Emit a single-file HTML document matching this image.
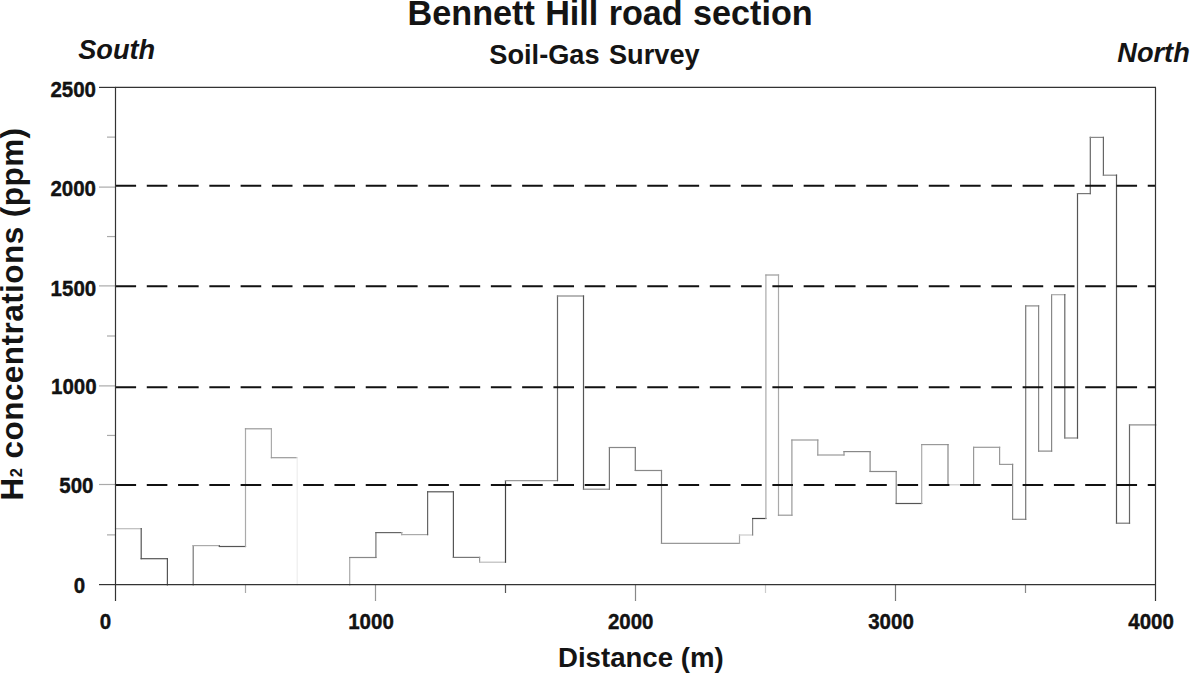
<!DOCTYPE html>
<html><head><meta charset="utf-8"><style>
html,body{margin:0;padding:0;background:#fff;width:1190px;height:673px;overflow:hidden}
svg{position:absolute;left:0;top:0}
text{fill:#141414}
</style></head><body>
<svg width="1190" height="673" viewBox="0 0 1190 673">
<rect width="1190" height="673" fill="#fff"/>
<line x1="115.5" y1="528.7" x2="141.2" y2="528.7" stroke="#bbb" stroke-width="1.2" stroke-linecap="square"/>
<line x1="141.2" y1="528.7" x2="141.2" y2="558.7" stroke="#555" stroke-width="1.2" stroke-linecap="square"/>
<line x1="141.2" y1="558.7" x2="167.4" y2="558.7" stroke="#555" stroke-width="1.2" stroke-linecap="square"/>
<line x1="167.4" y1="558.7" x2="167.4" y2="585" stroke="#555" stroke-width="1.2" stroke-linecap="square"/>
<line x1="193.2" y1="585" x2="193.2" y2="545.6" stroke="#777" stroke-width="1.2" stroke-linecap="square"/>
<line x1="193.2" y1="545.6" x2="219.4" y2="545.6" stroke="#aaa" stroke-width="1.2" stroke-linecap="square"/>
<line x1="219.4" y1="545.6" x2="219.4" y2="546.5" stroke="#777" stroke-width="1.2" stroke-linecap="square"/>
<line x1="219.4" y1="546.5" x2="245.5" y2="546.5" stroke="#555" stroke-width="1.2" stroke-linecap="square"/>
<line x1="245.5" y1="546.5" x2="245.5" y2="428.8" stroke="#aaa" stroke-width="1.2" stroke-linecap="square"/>
<line x1="245.5" y1="428.8" x2="271.4" y2="428.8" stroke="#999" stroke-width="1.2" stroke-linecap="square"/>
<line x1="271.4" y1="428.8" x2="271.4" y2="457.7" stroke="#aaa" stroke-width="1.2" stroke-linecap="square"/>
<line x1="271.4" y1="457.7" x2="297.2" y2="457.7" stroke="#999" stroke-width="1.2" stroke-linecap="square"/>
<line x1="297.2" y1="457.7" x2="297.2" y2="585" stroke="#eee" stroke-width="1.2" stroke-linecap="square"/>
<line x1="349.7" y1="585" x2="349.7" y2="557.5" stroke="#aaa" stroke-width="1.2" stroke-linecap="square"/>
<line x1="349.7" y1="557.5" x2="375.9" y2="557.5" stroke="#888" stroke-width="1.2" stroke-linecap="square"/>
<line x1="375.9" y1="557.5" x2="375.9" y2="532.6" stroke="#777" stroke-width="1.2" stroke-linecap="square"/>
<line x1="375.9" y1="532.6" x2="401.7" y2="532.6" stroke="#666" stroke-width="1.2" stroke-linecap="square"/>
<line x1="401.7" y1="532.6" x2="401.7" y2="534.6" stroke="#aaa" stroke-width="1.2" stroke-linecap="square"/>
<line x1="401.7" y1="534.6" x2="427.6" y2="534.6" stroke="#aaa" stroke-width="1.2" stroke-linecap="square"/>
<line x1="427.6" y1="534.6" x2="427.6" y2="491.8" stroke="#666" stroke-width="1.2" stroke-linecap="square"/>
<line x1="427.6" y1="491.8" x2="453.4" y2="491.8" stroke="#555" stroke-width="1.2" stroke-linecap="square"/>
<line x1="453.4" y1="491.8" x2="453.4" y2="557.4" stroke="#555" stroke-width="1.2" stroke-linecap="square"/>
<line x1="453.4" y1="557.4" x2="479.6" y2="557.4" stroke="#777" stroke-width="1.2" stroke-linecap="square"/>
<line x1="479.6" y1="557.4" x2="479.6" y2="562.2" stroke="#999" stroke-width="1.2" stroke-linecap="square"/>
<line x1="479.6" y1="562.2" x2="505.5" y2="562.2" stroke="#bbb" stroke-width="1.2" stroke-linecap="square"/>
<line x1="505.5" y1="562.2" x2="505.5" y2="480.6" stroke="#444" stroke-width="1.2" stroke-linecap="square"/>
<line x1="505.5" y1="480.6" x2="557.5" y2="480.6" stroke="#999" stroke-width="1.2" stroke-linecap="square"/>
<line x1="557.5" y1="480.6" x2="557.5" y2="296.0" stroke="#666" stroke-width="1.2" stroke-linecap="square"/>
<line x1="557.5" y1="296.0" x2="583.5" y2="296.0" stroke="#888" stroke-width="1.2" stroke-linecap="square"/>
<line x1="583.5" y1="296.0" x2="583.5" y2="489.2" stroke="#555" stroke-width="1.2" stroke-linecap="square"/>
<line x1="583.5" y1="489.2" x2="609.4" y2="489.2" stroke="#888" stroke-width="1.2" stroke-linecap="square"/>
<line x1="609.4" y1="489.2" x2="609.4" y2="447.5" stroke="#777" stroke-width="1.2" stroke-linecap="square"/>
<line x1="609.4" y1="447.5" x2="635.3" y2="447.5" stroke="#888" stroke-width="1.2" stroke-linecap="square"/>
<line x1="635.3" y1="447.5" x2="635.3" y2="470.5" stroke="#777" stroke-width="1.2" stroke-linecap="square"/>
<line x1="635.3" y1="470.5" x2="661.5" y2="470.5" stroke="#888" stroke-width="1.2" stroke-linecap="square"/>
<line x1="661.5" y1="470.5" x2="661.5" y2="543.4" stroke="#888" stroke-width="1.2" stroke-linecap="square"/>
<line x1="661.5" y1="543.4" x2="739.5" y2="543.4" stroke="#999" stroke-width="1.2" stroke-linecap="square"/>
<line x1="739.5" y1="543.4" x2="739.5" y2="535.0" stroke="#aaa" stroke-width="1.2" stroke-linecap="square"/>
<line x1="739.5" y1="535.0" x2="752.6" y2="535.0" stroke="#ccc" stroke-width="1.2" stroke-linecap="square"/>
<line x1="752.6" y1="535.0" x2="752.6" y2="518.5" stroke="#888" stroke-width="1.2" stroke-linecap="square"/>
<line x1="752.6" y1="518.5" x2="765.9" y2="518.5" stroke="#444" stroke-width="1.2" stroke-linecap="square"/>
<line x1="765.9" y1="518.5" x2="765.9" y2="275.0" stroke="#aaa" stroke-width="1.2" stroke-linecap="square"/>
<line x1="765.9" y1="275.0" x2="778.5" y2="275.0" stroke="#999" stroke-width="1.2" stroke-linecap="square"/>
<line x1="778.5" y1="275.0" x2="778.5" y2="515.2" stroke="#aaa" stroke-width="1.2" stroke-linecap="square"/>
<line x1="778.5" y1="515.2" x2="791.9" y2="515.2" stroke="#999" stroke-width="1.2" stroke-linecap="square"/>
<line x1="791.9" y1="515.2" x2="791.9" y2="440.0" stroke="#999" stroke-width="1.2" stroke-linecap="square"/>
<line x1="791.9" y1="440.0" x2="817.8" y2="440.0" stroke="#999" stroke-width="1.2" stroke-linecap="square"/>
<line x1="817.8" y1="440.0" x2="817.8" y2="455.0" stroke="#999" stroke-width="1.2" stroke-linecap="square"/>
<line x1="817.8" y1="455.0" x2="844.0" y2="455.0" stroke="#999" stroke-width="1.2" stroke-linecap="square"/>
<line x1="844.0" y1="455.0" x2="844.0" y2="451.6" stroke="#999" stroke-width="1.2" stroke-linecap="square"/>
<line x1="844.0" y1="451.6" x2="870.1" y2="451.6" stroke="#888" stroke-width="1.2" stroke-linecap="square"/>
<line x1="870.1" y1="451.6" x2="870.1" y2="471.5" stroke="#888" stroke-width="1.2" stroke-linecap="square"/>
<line x1="870.1" y1="471.5" x2="896.2" y2="471.5" stroke="#888" stroke-width="1.2" stroke-linecap="square"/>
<line x1="896.2" y1="471.5" x2="896.2" y2="503.5" stroke="#888" stroke-width="1.2" stroke-linecap="square"/>
<line x1="896.2" y1="503.5" x2="921.7" y2="503.5" stroke="#555" stroke-width="1.2" stroke-linecap="square"/>
<line x1="921.7" y1="503.5" x2="921.7" y2="444.6" stroke="#aaa" stroke-width="1.2" stroke-linecap="square"/>
<line x1="921.7" y1="444.6" x2="948.0" y2="444.6" stroke="#999" stroke-width="1.2" stroke-linecap="square"/>
<line x1="948.0" y1="444.6" x2="948.0" y2="484.8" stroke="#888" stroke-width="1.2" stroke-linecap="square"/>
<line x1="948.0" y1="484.8" x2="973.6" y2="484.8" stroke="#ccc" stroke-width="1.2" stroke-linecap="square"/>
<line x1="973.6" y1="484.8" x2="973.6" y2="447.3" stroke="#999" stroke-width="1.2" stroke-linecap="square"/>
<line x1="973.6" y1="447.3" x2="999.6" y2="447.3" stroke="#999" stroke-width="1.2" stroke-linecap="square"/>
<line x1="999.6" y1="447.3" x2="999.6" y2="464.4" stroke="#999" stroke-width="1.2" stroke-linecap="square"/>
<line x1="999.6" y1="464.4" x2="1012.6" y2="464.4" stroke="#999" stroke-width="1.2" stroke-linecap="square"/>
<line x1="1012.6" y1="464.4" x2="1012.6" y2="519.3" stroke="#888" stroke-width="1.2" stroke-linecap="square"/>
<line x1="1012.6" y1="519.3" x2="1025.7" y2="519.3" stroke="#888" stroke-width="1.2" stroke-linecap="square"/>
<line x1="1025.7" y1="519.3" x2="1025.7" y2="305.9" stroke="#777" stroke-width="1.2" stroke-linecap="square"/>
<line x1="1025.7" y1="305.9" x2="1038.6" y2="305.9" stroke="#888" stroke-width="1.2" stroke-linecap="square"/>
<line x1="1038.6" y1="305.9" x2="1038.6" y2="451.1" stroke="#888" stroke-width="1.2" stroke-linecap="square"/>
<line x1="1038.6" y1="451.1" x2="1051.6" y2="451.1" stroke="#888" stroke-width="1.2" stroke-linecap="square"/>
<line x1="1051.6" y1="451.1" x2="1051.6" y2="294.7" stroke="#888" stroke-width="1.2" stroke-linecap="square"/>
<line x1="1051.6" y1="294.7" x2="1064.8" y2="294.7" stroke="#aaa" stroke-width="1.2" stroke-linecap="square"/>
<line x1="1064.8" y1="294.7" x2="1064.8" y2="438.0" stroke="#666" stroke-width="1.2" stroke-linecap="square"/>
<line x1="1064.8" y1="438.0" x2="1077.5" y2="438.0" stroke="#888" stroke-width="1.2" stroke-linecap="square"/>
<line x1="1077.5" y1="438.0" x2="1077.5" y2="193.6" stroke="#555" stroke-width="1.2" stroke-linecap="square"/>
<line x1="1077.5" y1="193.6" x2="1090.3" y2="193.6" stroke="#777" stroke-width="1.2" stroke-linecap="square"/>
<line x1="1090.3" y1="193.6" x2="1090.3" y2="137.4" stroke="#666" stroke-width="1.2" stroke-linecap="square"/>
<line x1="1090.3" y1="137.4" x2="1103.4" y2="137.4" stroke="#888" stroke-width="1.2" stroke-linecap="square"/>
<line x1="1103.4" y1="137.4" x2="1103.4" y2="175.2" stroke="#666" stroke-width="1.2" stroke-linecap="square"/>
<line x1="1103.4" y1="175.2" x2="1116.5" y2="175.2" stroke="#888" stroke-width="1.2" stroke-linecap="square"/>
<line x1="1116.5" y1="175.2" x2="1116.5" y2="523.2" stroke="#555" stroke-width="1.2" stroke-linecap="square"/>
<line x1="1116.5" y1="523.2" x2="1129.5" y2="523.2" stroke="#777" stroke-width="1.2" stroke-linecap="square"/>
<line x1="1129.5" y1="523.2" x2="1129.5" y2="424.9" stroke="#666" stroke-width="1.2" stroke-linecap="square"/>
<line x1="1129.5" y1="424.9" x2="1155.7" y2="424.9" stroke="#888" stroke-width="1.2" stroke-linecap="square"/>
<line x1="115.5" y1="185.7" x2="1155.5" y2="185.7" stroke="#111" stroke-width="2.0" stroke-dasharray="20.6 10.68"/>
<line x1="115.5" y1="286.2" x2="1155.5" y2="286.2" stroke="#111" stroke-width="2.0" stroke-dasharray="20.6 10.68"/>
<line x1="115.5" y1="387.2" x2="1155.5" y2="387.2" stroke="#111" stroke-width="2.0" stroke-dasharray="20.6 10.68"/>
<line x1="115.5" y1="485" x2="1155.5" y2="485" stroke="#111" stroke-width="2.0" stroke-dasharray="20.6 10.68"/>
<line x1="99" y1="584.6" x2="115.5" y2="584.6" stroke="#333" stroke-width="1.2"/>
<line x1="99" y1="484.5" x2="115.5" y2="484.5" stroke="#aaa" stroke-width="1.2"/>
<line x1="99" y1="385.9" x2="115.5" y2="385.9" stroke="#aaa" stroke-width="1.2"/>
<line x1="99" y1="285.9" x2="115.5" y2="285.9" stroke="#aaa" stroke-width="1.2"/>
<line x1="99" y1="187.1" x2="115.5" y2="187.1" stroke="#aaa" stroke-width="1.2"/>
<line x1="99" y1="87.4" x2="115.5" y2="87.4" stroke="#333" stroke-width="1.2"/>
<line x1="107" y1="534.88" x2="115.5" y2="534.88" stroke="#aaa" stroke-width="1.2"/>
<line x1="107" y1="435.44" x2="115.5" y2="435.44" stroke="#aaa" stroke-width="1.2"/>
<line x1="107" y1="336.0" x2="115.5" y2="336.0" stroke="#aaa" stroke-width="1.2"/>
<line x1="107" y1="236.56" x2="115.5" y2="236.56" stroke="#aaa" stroke-width="1.2"/>
<line x1="107" y1="137.12" x2="115.5" y2="137.12" stroke="#aaa" stroke-width="1.2"/>
<line x1="375.5" y1="584.6" x2="375.5" y2="601" stroke="#999" stroke-width="1.2"/>
<line x1="635.5" y1="584.6" x2="635.5" y2="601" stroke="#888" stroke-width="1.2"/>
<line x1="895.5" y1="584.6" x2="895.5" y2="601" stroke="#777" stroke-width="1.2"/>
<line x1="245.5" y1="584.6" x2="245.5" y2="593" stroke="#aaa" stroke-width="1.2"/>
<line x1="505.5" y1="584.6" x2="505.5" y2="593" stroke="#555" stroke-width="1.2"/>
<line x1="765.5" y1="584.6" x2="765.5" y2="593" stroke="#ccc" stroke-width="1.2"/>
<line x1="1025.5" y1="584.6" x2="1025.5" y2="593" stroke="#888" stroke-width="1.2"/>
<line x1="115.0" y1="87.4" x2="1156.0" y2="87.4" stroke="#333" stroke-width="1.2"/>
<line x1="115.0" y1="584.6" x2="1156.0" y2="584.6" stroke="#333" stroke-width="1.2"/>
<line x1="115.5" y1="87.4" x2="115.5" y2="601" stroke="#333" stroke-width="1.2"/>
<line x1="1155.5" y1="87.4" x2="1155.5" y2="601" stroke="#333" stroke-width="1.2"/>
<text x="407.6" y="25.0" style="font-family:'Liberation Sans',sans-serif;font-weight:bold;font-size:34.2px;word-spacing:0.8px" text-anchor="start">Bennett Hill road section</text>
<text x="489.3" y="63.5" style="font-family:'Liberation Sans',sans-serif;font-weight:bold;font-size:27.2px;word-spacing:1.8px" text-anchor="start">Soil-Gas Survey</text>
<text x="78.2" y="59.3" style="font-family:'Liberation Sans',sans-serif;font-weight:bold;font-size:27.2px;font-style:italic" text-anchor="start">South</text>
<text x="1117.3" y="62.4" style="font-family:'Liberation Sans',sans-serif;font-weight:bold;font-size:27.2px;font-style:italic" text-anchor="start">North</text>
<text x="558.0" y="666.9" style="font-family:'Liberation Sans',sans-serif;font-weight:bold;font-size:27.6px" text-anchor="start">Distance (m)</text>
<text transform="translate(50.4,96.6) scale(1,1.06)" style="font-family:'Liberation Sans',sans-serif;font-weight:bold;font-size:20.5px;stroke:#000;stroke-width:0.35px">2500</text>
<text transform="translate(50.4,195.7) scale(1,1.06)" style="font-family:'Liberation Sans',sans-serif;font-weight:bold;font-size:20.5px;stroke:#000;stroke-width:0.35px">2000</text>
<text transform="translate(50.6,295.5) scale(1,1.06)" style="font-family:'Liberation Sans',sans-serif;font-weight:bold;font-size:20.5px;stroke:#000;stroke-width:0.35px">1500</text>
<text transform="translate(51.0,394.1) scale(1,1.06)" style="font-family:'Liberation Sans',sans-serif;font-weight:bold;font-size:20.5px;stroke:#000;stroke-width:0.35px">1000</text>
<text transform="translate(59.3,493.2) scale(1,1.06)" style="font-family:'Liberation Sans',sans-serif;font-weight:bold;font-size:20.5px;stroke:#000;stroke-width:0.35px">500</text>
<text transform="translate(73.7,593.3) scale(1,1.06)" style="font-family:'Liberation Sans',sans-serif;font-weight:bold;font-size:20.5px;stroke:#000;stroke-width:0.35px">0</text>
<text transform="translate(99.8,628.8) scale(1,1.06)" style="font-family:'Liberation Sans',sans-serif;font-weight:bold;font-size:20.5px;stroke:#000;stroke-width:0.35px">0</text>
<text transform="translate(348.2,628.8) scale(1,1.06)" style="font-family:'Liberation Sans',sans-serif;font-weight:bold;font-size:20.5px;stroke:#000;stroke-width:0.35px">1000</text>
<text transform="translate(607.9,628.8) scale(1,1.06)" style="font-family:'Liberation Sans',sans-serif;font-weight:bold;font-size:20.5px;stroke:#000;stroke-width:0.35px">2000</text>
<text transform="translate(868.2,628.8) scale(1,1.06)" style="font-family:'Liberation Sans',sans-serif;font-weight:bold;font-size:20.5px;stroke:#000;stroke-width:0.35px">3000</text>
<text transform="translate(1128.3,628.8) scale(1,1.06)" style="font-family:'Liberation Sans',sans-serif;font-weight:bold;font-size:20.5px;stroke:#000;stroke-width:0.35px">4000</text>
<text transform="translate(22.8,500.5) rotate(-90)" style="font-family:'Liberation Sans',sans-serif;font-weight:bold;font-size:31.5px;letter-spacing:0.45px">H<tspan dy="-0.8" style="font-size:16.5px">2</tspan><tspan dy="0.8"> concentrations (ppm)</tspan></text>
</svg>
</body></html>
